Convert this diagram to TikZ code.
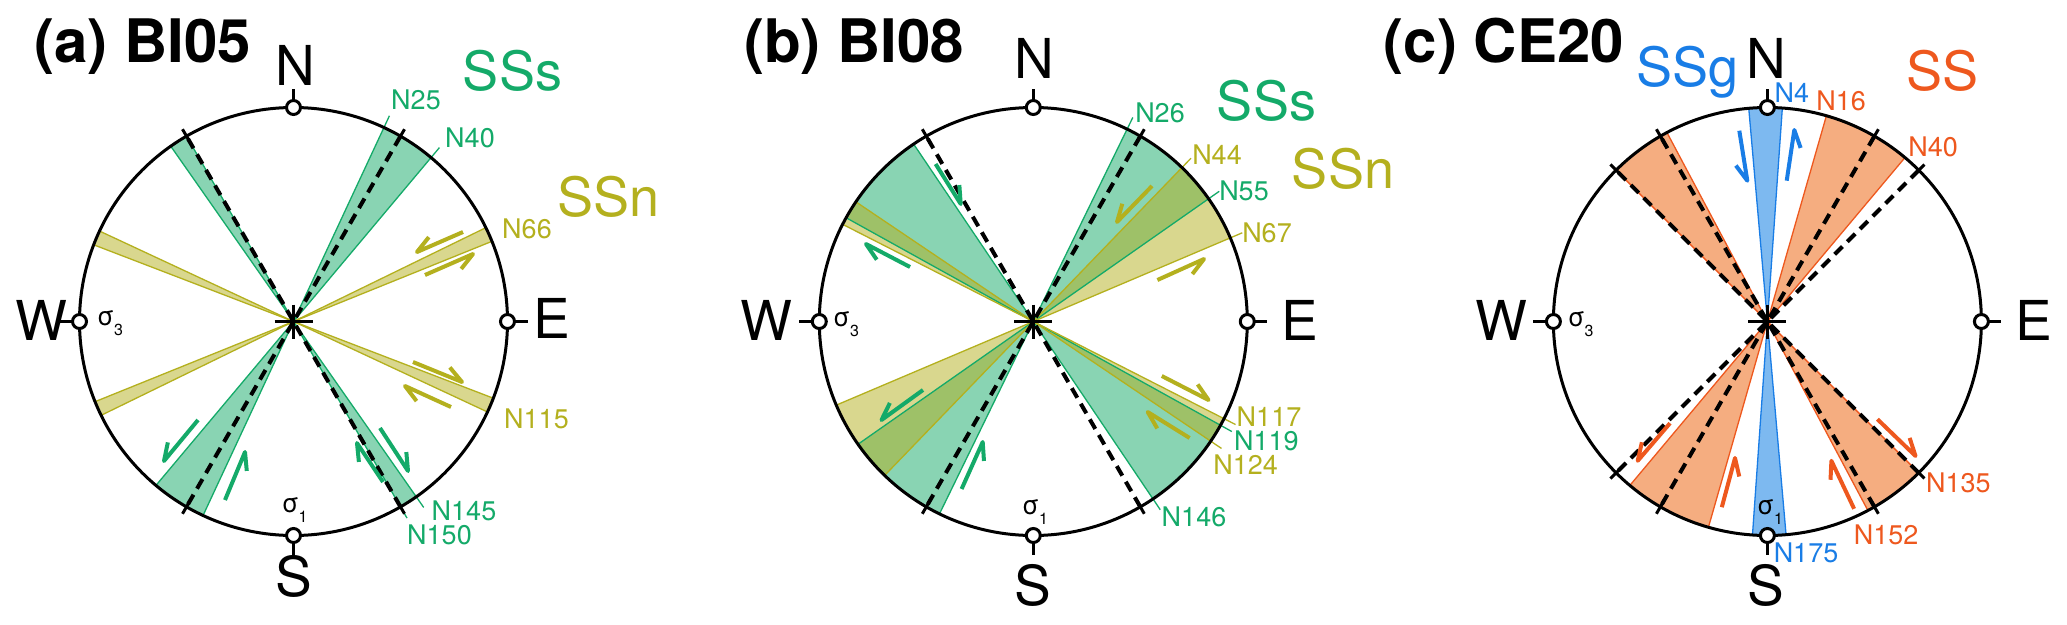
\documentclass[tikz,border=0pt]{standalone}
\usepackage{fontspec}
\setmainfont{TeX Gyre Heros}
\usetikzlibrary{calc}
\definecolor{ssgreen}{RGB}{20,170,105}
\definecolor{ssyellow}{RGB}{180,176,30}
\definecolor{ssorange}{RGB}{238,88,30}
\definecolor{ssblue}{RGB}{25,125,230}
\definecolor{orfill}{RGB}{245,173,128}
\definecolor{blfill}{RGB}{125,185,240}
\tikzset{
  ringln/.style={line width=3pt},
  dashln/.style={line width=4pt, dash pattern=on 11pt off 7pt},
  harpline/.style={line width=4pt, line join=round},
  edge/.style={line width=1.3pt},
  gfan/.style={fill=ssgreen, fill opacity=0.5},
  yfan/.style={fill=ssyellow, fill opacity=0.5},
  ofan/.style={fill=orfill},
  bfan/.style={fill=blfill},
  ttl/.style={font=\fontsize{60}{60}\selectfont\bfseries, anchor=base west, inner sep=0pt},
  dir/.style={font=\fontsize{55}{55}\selectfont, anchor=base, inner sep=0pt},
  big/.style={font=\fontsize{54}{54}\selectfont, anchor=base, inner sep=0pt},
  lab/.style={font=\fontsize{27}{27}\selectfont, anchor=base, inner sep=0pt},
  sig/.style={font=\fontsize{26}{26}\selectfont, anchor=base west, inner sep=0pt},
}
\newcommand{\fanpair}[3]{%
  \path[#1] (0,0) -- ({#2-90}:214) arc[start angle={#2-90}, end angle={#3-90}, radius=214] -- cycle
            (0,0) -- ({#2+90}:214) arc[start angle={#2+90}, end angle={#3+90}, radius=214] -- cycle;}
\newcommand{\edgeln}[2]{\draw[edge,#1] ({#2-90}:214) -- ({#2+90}:214);}
\newcommand{\leadln}[2]{\draw[edge,#1] ({#2-90}:212) -- ({#2-90}:227);}
\newcommand{\dashdiam}[1]{\draw[dashln] ({#1-90}:214) -- ({#1+90}:214);
  \draw[ringln] ({#1-90}:206) -- ({#1-90}:222) ({#1+90}:206) -- ({#1+90}:222);}
\newcommand{\compass}{%
  \draw[ringln] (0,0) circle[radius=214];
  \draw[ringln] (-19,0) -- (19,0) (0,-17) -- (0,17);
  \draw[ringln] (0,-214) -- (0,-233) (0,214) -- (0,233) (-214,0) -- (-234,0) (214,0) -- (234,0);
  \filldraw[ringln, fill=white] (0,-214) circle[radius=7] (0,214) circle[radius=7]
     (-214,0) circle[radius=7] (214,0) circle[radius=7];}
\newcommand{\harp}[4]{\draw[harpline,#1] #2 -- #3 -- ($#3!19pt!#4:#2$);}
\begin{document}
\begin{tikzpicture}[x=1pt,y=-1pt]
\useasboundingbox (0,0) rectangle (2067,624);
\fill[white] (0,0) rectangle (2067,624);

% ---------------- panel (a)
\begin{scope}[shift={(293.5,321.5)}]
  \fanpair{gfan}{25}{40}
  \fanpair{gfan}{145}{150}
  \fanpair{yfan}{64}{68}
  \fanpair{yfan}{111}{115}
  \edgeln{ssgreen}{25}\edgeln{ssgreen}{40}\edgeln{ssgreen}{145}\edgeln{ssgreen}{150}
  \edgeln{ssyellow}{64}\edgeln{ssyellow}{68}\edgeln{ssyellow}{111}\edgeln{ssyellow}{115}
  \leadln{ssgreen}{25}\leadln{ssgreen}{40}\leadln{ssgreen}{145}\leadln{ssgreen}{150}
  \dashdiam{30}\dashdiam{150}
  \compass
\end{scope}
\harp{ssgreen}{(198,420)}{(164,461)}{28}
\harp{ssgreen}{(225,500)}{(245,452)}{28}
\harp{ssgreen}{(383,482)}{(357,443)}{-28}
\harp{ssgreen}{(380,428)}{(408,471)}{-28}
\harp{ssyellow}{(463,232)}{(417,252)}{28}
\harp{ssyellow}{(425,275)}{(473,254)}{28}
\harp{ssyellow}{(413,362)}{(462,382)}{-28}
\harp{ssyellow}{(451,407)}{(405,386)}{-28}
\node[ttl] (a-title) at (34,62) {(a) BI05};
\node[dir] (a-N) at (295.8,85) {N};
\node[dir] (a-S) at (293.5,596) {S};
\node[dir] (a-W) at (41.8,340) {W};
\node[dir] (a-E) at (551.7,338) {E};
\node[big, text=ssgreen] (a-sss) at (512.5,90) {SSs};
\node[big, text=ssyellow] (a-ssn) at (608.5,216) {SSn};
\node[lab, text=ssgreen] (a-n25) at (416,109) {N25};
\node[lab, text=ssgreen] (a-n40) at (470,147) {N40};
\node[lab, text=ssyellow] (a-n66) at (527,238) {N66};
\node[lab, text=ssyellow] (a-n115) at (536.5,428) {N115};
\node[lab, text=ssgreen] (a-n145) at (464,520) {N145};
\node[lab, text=ssgreen] (a-n150) at (439.5,544) {N150};
\node[sig] (a-s3) at (97,325) {σ\raisebox{-10pt}{\fontsize{16}{16}\selectfont 3}};
\node[sig] (a-s1) at (281.7,512) {σ\raisebox{-10pt}{\fontsize{16}{16}\selectfont 1}};

% ---------------- panel (b)
\begin{scope}[shift={(1033.3,321.5)}]
  \fanpair{gfan}{26}{55}
  \fanpair{gfan}{119}{146}
  \fanpair{yfan}{44}{67}
  \fanpair{yfan}{117}{124}
  \edgeln{ssgreen}{26}\edgeln{ssgreen}{55}\edgeln{ssgreen}{119}\edgeln{ssgreen}{146}
  \edgeln{ssyellow}{44}\edgeln{ssyellow}{67}\edgeln{ssyellow}{117}\edgeln{ssyellow}{124}
  \leadln{ssgreen}{26}\leadln{ssyellow}{44}\leadln{ssgreen}{55}\leadln{ssyellow}{67}
  \leadln{ssyellow}{117}\leadln{ssgreen}{119}\leadln{ssyellow}{124}\leadln{ssgreen}{146}
  \dashdiam{30}\dashdiam{150}
  \compass
\end{scope}
\harp{ssgreen}{(935.6,164)}{(960.7,204)}{-28}
\harp{ssgreen}{(910,267)}{(866,244)}{-28}
\harp{ssgreen}{(923,390)}{(881.5,420)}{28}
\harp{ssgreen}{(961.6,489)}{(982.7,442)}{28}
\harp{ssyellow}{(1152,186)}{(1117,222)}{28}
\harp{ssyellow}{(1157.4,280)}{(1204,259)}{28}
\harp{ssyellow}{(1161.8,376)}{(1208.5,400)}{-28}
\harp{ssyellow}{(1189.6,438)}{(1147.7,412)}{-28}
\node[ttl] (b-title) at (744,62) {(b) BI08};
\node[dir] (b-N) at (1034.4,78) {N};
\node[dir] (b-S) at (1033.3,605) {S};
\node[dir] (b-W) at (766,340) {W};
\node[dir] (b-E) at (1299.5,340) {E};
\node[big, text=ssgreen] (b-sss) at (1266.5,120) {SSs};
\node[big, text=ssyellow] (b-ssn) at (1343,188) {SSn};
\node[lab, text=ssgreen] (b-n26) at (1160,122) {N26};
\node[lab, text=ssyellow] (b-n44) at (1217,164) {N44};
\node[lab, text=ssgreen] (b-n55) at (1244,200) {N55};
\node[lab, text=ssyellow] (b-n67) at (1267,242) {N67};
\node[lab, text=ssyellow] (b-n117) at (1269,426) {N117};
\node[lab, text=ssgreen] (b-n119) at (1266.4,450) {N119};
\node[lab, text=ssyellow] (b-n124) at (1245.7,474) {N124};
\node[lab, text=ssgreen] (b-n146) at (1194,526) {N146};
\node[sig] (b-s3) at (833,326) {σ\raisebox{-10pt}{\fontsize{16}{16}\selectfont 3}};
\node[sig] (b-s1) at (1022,514) {σ\raisebox{-10pt}{\fontsize{16}{16}\selectfont 1}};

% ---------------- panel (c)
\begin{scope}[shift={(1767.4,321.5)}]
  \fanpair{ofan}{16}{40}
  \fanpair{ofan}{135}{152}
  \fanpair{bfan}{-5}{4}
  \edgeln{ssorange}{16}\edgeln{ssorange}{40}\edgeln{ssorange}{135}\edgeln{ssorange}{152}
  \edgeln{ssblue}{-5}\edgeln{ssblue}{4}
  \dashdiam{30}\dashdiam{45}\dashdiam{135}\dashdiam{150}
  \compass
\end{scope}
\harp{ssblue}{(1739.3,130.7)}{(1747.3,180.7)}{28}
\harp{ssblue}{(1786.7,180.7)}{(1794.3,130)}{28}
\harp{ssorange}{(1670,423.2)}{(1637.7,460.8)}{28}
\harp{ssorange}{(1721.8,507.2)}{(1735,458)}{28}
\harp{ssorange}{(1854.1,508.8)}{(1831.4,460.8)}{-28}
\harp{ssorange}{(1877.4,419.2)}{(1915.5,456)}{-28}
\node[ttl] (c-title) at (1383.5,62) {(c) CE20};
\node[dir] (c-N) at (1766.8,78) {N};
\node[dir] (c-S) at (1765.7,605) {S};
\node[dir] (c-W) at (1501.6,340) {W};
\node[dir] (c-E) at (2034,340) {E};
\node[big, text=ssblue] (c-ssg) at (1687.8,86) {SSg};
\node[big, text=ssorange] (c-ss) at (1942,90) {SS};
\node[lab, text=ssblue] (c-n4) at (1791.8,102) {N4};
\node[lab, text=ssorange] (c-n16) at (1841,110) {N16};
\node[lab, text=ssorange] (c-n40) at (1933,156) {N40};
\node[lab, text=ssorange] (c-n135) at (1958.4,492) {N135};
\node[lab, text=ssorange] (c-n152) at (1886,544) {N152};
\node[lab, text=ssblue] (c-n175) at (1806,562) {N175};
\node[sig] (c-s3) at (1567.6,326) {σ\raisebox{-10pt}{\fontsize{16}{16}\selectfont 3}};
\node[sig] (c-s1) at (1757,514) {σ\raisebox{-10pt}{\fontsize{16}{16}\selectfont 1}};
\end{tikzpicture}
\end{document}
